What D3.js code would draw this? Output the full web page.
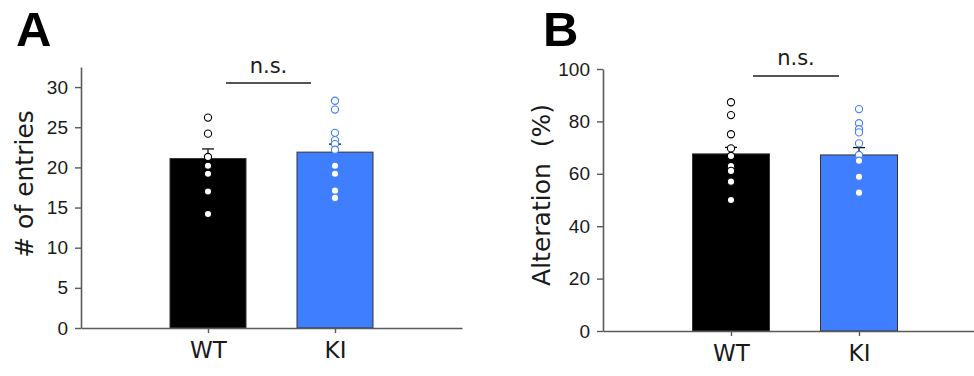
<!DOCTYPE html>
<html><head><meta charset="utf-8">
<script src="https://cdn.jsdelivr.net/npm/d3@7"></script>
<style>
html,body{margin:0;padding:0;background:#fff;}
svg{display:block;}
</style></head>
<body>
<svg id="chart" width="974" height="376"></svg>
<script>
// ---------- data ----------
const groups = ["WT", "KI"];
const groupColors = ["#000000", "#3f7fff"];

// Panel A: # of entries
const entriesMean = [21.1, 21.9];
const entriesErr = [1.2, 1.0];
const entriesWT = [26.2, 24.2, 21.3, 20.2, 19.2, 17.0, 14.2];
const entriesKI = [28.3, 27.2, 24.3, 23.4, 22.9, 22.2, 20.2, 19.2, 17.1, 16.2];
const entriesTicks = [0, 5, 10, 15, 20, 25, 30];

// Panel B: Alteration (%)
const altMean = [67.6, 67.2];
const altErr = [2.5, 2.8];
const altWT = [87.3, 82.4, 75.1, 69.7, 66.8, 63.0, 61.1, 57.0, 50.0];
const altKI = [84.7, 79.3, 77.0, 75.8, 71.6, 67.2, 65.0, 58.9, 52.8];
const altTicks = [0, 20, 40, 60, 80, 100];

const svg = d3.select("#chart");
const axisColor = "#5a5a5a";

function panel(cfg) {
  const g = svg.append("g");
  const y = d3.scaleLinear().domain(cfg.yDomain).range([cfg.y0, cfg.y1]);
  const x = d3.scalePoint().domain(groups).range([cfg.x0, cfg.x1]).padding(1);
  const bw = cfg.barW;

  // bars
  g.selectAll("rect.bar").data(groups).enter().append("rect")
    .attr("x", d => x(d) - bw / 2)
    .attr("y", (d, i) => y(cfg.mean[i]))
    .attr("width", bw)
    .attr("height", (d, i) => y(0) - y(cfg.mean[i]))
    .attr("fill", (d, i) => groupColors[i])
    .attr("stroke", "#333")
    .attr("stroke-width", 1);

  // error bars (upper only)
  groups.forEach((d, i) => {
    const cx = x(d), top = y(cfg.mean[i] + cfg.err[i]), bt = y(cfg.mean[i]);
    g.append("line").attr("x1", cx).attr("x2", cx).attr("y1", top).attr("y2", bt)
      .attr("stroke", "#111").attr("stroke-width", 1.3);
    g.append("line").attr("x1", cx - 6).attr("x2", cx + 6).attr("y1", top).attr("y2", top)
      .attr("stroke", "#111").attr("stroke-width", 1.3);
  });

  // points
  [cfg.ptsWT, cfg.ptsKI].forEach((pts, i) => {
    g.selectAll(null).data(pts).enter().append("circle")
      .attr("cx", x(groups[i]))
      .attr("cy", v => y(v))
      .attr("r", 3.6)
      .attr("fill", "#fff")
      .attr("stroke", i === 0 ? "#000" : "#3f7fff")
      .attr("stroke-width", 1.1);
  });

  // y axis
  const ya = g.append("g").attr("transform", `translate(${cfg.x0},0)`)
    .call(d3.axisLeft(y).tickValues(cfg.ticks).tickSize(6).tickPadding(7).tickSizeOuter(0));
  ya.select(".domain").attr("stroke", axisColor).attr("stroke-width", 1.6);
  ya.selectAll(".tick line").attr("stroke", axisColor).attr("stroke-width", 1.4);
  ya.selectAll(".tick text").attr("font-family", "Liberation Sans, Arial, sans-serif")
    .attr("font-size", 19).attr("fill", "#1a1a1a");

  // x axis
  const xa = g.append("g").attr("transform", `translate(0,${y(0)})`)
    .call(d3.axisBottom(x).tickSize(5).tickPadding(9).tickSizeOuter(0));
  xa.select(".domain").attr("stroke", axisColor).attr("stroke-width", 1.6);
  xa.selectAll(".tick line").attr("stroke", axisColor).attr("stroke-width", 1.4);
  xa.selectAll(".tick text").attr("font-family", "DejaVu Sans, Verdana, sans-serif")
    .attr("font-size", 23).attr("fill", "#1a1a1a");

  // y label
  g.append("text")
    .attr("transform", `translate(${cfg.labX},${cfg.labY}) rotate(-90)`)
    .attr("text-anchor", "middle")
    .attr("font-family", "DejaVu Sans, Verdana, sans-serif")
    .attr("font-size", cfg.labSize)
    .attr("fill", "#1a1a1a")
    .attr("xml:space", "preserve")
    .text(cfg.label);

  // n.s. bracket
  g.append("line").attr("x1", cfg.ns[0]).attr("x2", cfg.ns[1]).attr("y1", cfg.ns[2]).attr("y2", cfg.ns[2])
    .attr("stroke", "#555").attr("stroke-width", 2);
  g.append("text").attr("x", (cfg.ns[0] + cfg.ns[1]) / 2 + cfg.ns[4]).attr("y", cfg.ns[3])
    .attr("text-anchor", "middle")
    .attr("font-family", "DejaVu Sans, Verdana, sans-serif")
    .attr("font-size", 21).attr("fill", "#1a1a1a").text("n.s.");

  // panel letter
  g.append("text").attr("x", cfg.letX).attr("y", 46)
    .attr("font-family", "Liberation Sans, Arial, sans-serif")
    .attr("font-weight", "bold").attr("font-size", 49).attr("fill", "#000")
    .text(cfg.letter);
}

panel({
  yDomain: [0, 32.5], y0: 328, y1: 67, x0: 81, x1: 462, barW: 76,
  mean: entriesMean, err: entriesErr, ptsWT: entriesWT, ptsKI: entriesKI,
  ticks: entriesTicks, label: "# of entries", labX: 33, labY: 184, labSize: 25,
  ns: [226, 311, 83, 73, 0], letter: "A", letX: 16
});

panel({
  yDomain: [0, 100], y0: 331, y1: 69, x0: 603, x1: 987, barW: 77,
  mean: altMean, err: altErr, ptsWT: altWT, ptsKI: altKI,
  ticks: altTicks, label: "Alteration  (%)", labX: 550, labY: 195, labSize: 25,
  ns: [753, 839, 76, 65, 0], letter: "B", letX: 543
});
</script>
</body></html>
